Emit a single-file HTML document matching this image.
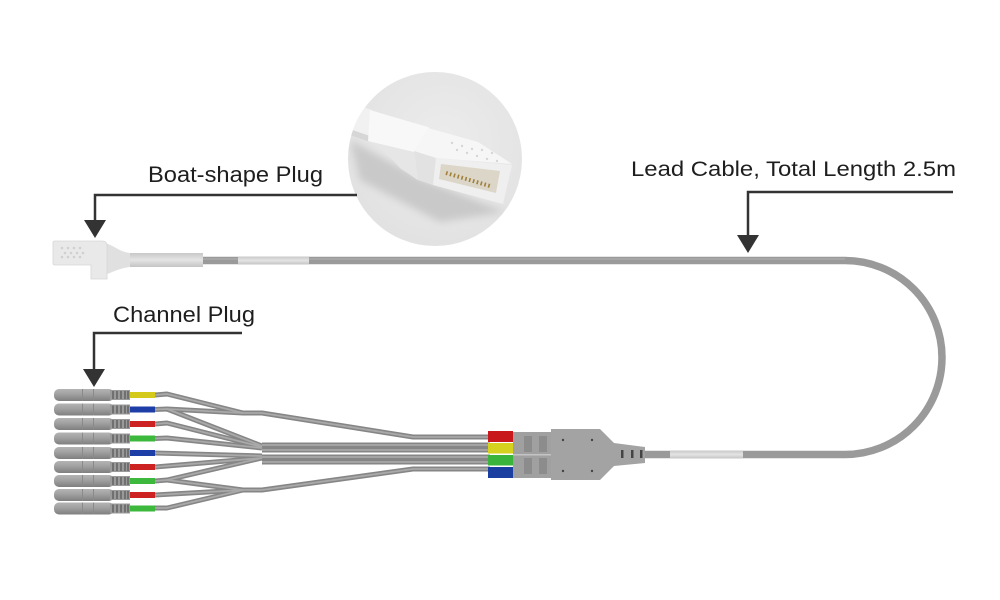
<!DOCTYPE html>
<html><head><meta charset="utf-8"><style>
html,body{margin:0;padding:0;background:#fff;}
svg{display:block;}
text{font-family:"Liberation Sans",sans-serif;fill:#1e1e1e;}
</style></head><body>
<svg width="1000" height="600" viewBox="0 0 1000 600" xmlns="http://www.w3.org/2000/svg">
<defs>
  <linearGradient id="pg" x1="0" y1="0" x2="0" y2="1">
    <stop offset="0" stop-color="#b4b4b4"/><stop offset="0.45" stop-color="#a0a0a0"/><stop offset="1" stop-color="#7f7f7f"/>
  </linearGradient>
  <linearGradient id="sg" x1="0" y1="0" x2="0" y2="1">
    <stop offset="0" stop-color="#c8c8c8"/><stop offset="0.5" stop-color="#e4e4e4"/><stop offset="1" stop-color="#c4c4c4"/>
  </linearGradient>
  <radialGradient id="cg" cx="0.55" cy="0.4" r="0.6">
    <stop offset="0" stop-color="#ececec"/><stop offset="1" stop-color="#e2e2e2"/>
  </radialGradient>
  <clipPath id="cc"><circle cx="435" cy="159" r="87"/></clipPath>
  <filter id="bl" x="-20%" y="-20%" width="140%" height="140%"><feGaussianBlur stdDeviation="4"/></filter>
</defs>

<!-- Circle inset -->
<circle cx="435" cy="159" r="87" fill="url(#cg)"/>
<g clip-path="url(#cc)">
  <polygon points="350,140 420,178 505,212 440,222 360,180" fill="#c9c9c9" filter="url(#bl)"/>
  <polygon points="335,98 372,110 370,142 335,130" fill="#f1f1f1"/>
  <polygon points="335,124 370,136 370,142 335,130" fill="#d6d6d6"/>
  <path d="M370,110 C390,116 410,122 428,127 L440,136 L414,152 L418,180 C405,172 396,160 386,151 C379,146 373,143 368,141 Z" fill="#f8f8f8"/>
  <path d="M368,141 C378,146 390,156 400,168 L418,180 L414,152 Z" fill="#e6e6e6"/>
  <polygon points="414,151 428,128 478,142 512,164 436,158" fill="#f6f6f6"/>
  <polygon points="414,151 436,158 433,185 418,180" fill="#e2e2e2"/>
  <polygon points="436,158 512,165 503,204 433,185" fill="#efefef"/>
  <polygon points="441,164 500,171 496,193 439,179" fill="#dcd6c8"/>
  <line x1="446" y1="173" x2="490" y2="186" stroke="#a0803a" stroke-width="4" stroke-dasharray="1.6 2.4"/>
  <g fill="#d6d6d6">
    <circle cx="452" cy="143" r="1.2"/><circle cx="462" cy="146" r="1.2"/><circle cx="472" cy="149" r="1.2"/>
    <circle cx="457" cy="150" r="1.2"/><circle cx="467" cy="153" r="1.2"/><circle cx="477" cy="156" r="1.2"/><circle cx="487" cy="159" r="1.2"/>
    <circle cx="482" cy="150" r="1.2"/><circle cx="492" cy="153" r="1.2"/><circle cx="497" cy="161" r="1.2"/>
  </g>
</g>

<!-- Labels -->
<text x="148" y="182" font-size="22" textLength="175" lengthAdjust="spacingAndGlyphs">Boat-shape Plug</text>
<text x="631" y="176" font-size="21" textLength="325" lengthAdjust="spacingAndGlyphs">Lead Cable, Total Length 2.5m</text>
<text x="113" y="322" font-size="22" textLength="142" lengthAdjust="spacingAndGlyphs">Channel Plug</text>

<!-- Arrows -->
<g stroke="#333" stroke-width="2.5" fill="none">
  <polyline points="357,195 95,195 95,224"/>
  <polyline points="953,192 748,192 748,238"/>
  <polyline points="242,333 94,333 94,372"/>
</g>
<g fill="#333">
  <polygon points="84,220 106,220 95,238"/>
  <polygon points="737,235 759,235 748,253"/>
  <polygon points="83,369 105,369 94,387"/>
</g>

<!-- Main lead cable -->
<path d="M200,260.5 L845,260.5 A97,97 0 0 1 845,454.5 L640,454.5" fill="none" stroke="#9a9a9a" stroke-width="7.5"/>
<path d="M200,259 L845,259" stroke="#a6a6a6" stroke-width="2" fill="none"/>
<rect x="238" y="256.5" width="71" height="8" fill="url(#sg)"/>
<rect x="670" y="450.5" width="73" height="8" fill="url(#sg)"/>

<!-- Boat plug -->
<path d="M105,243 C115,246 120,252 130,253 L130,267 C120,268 113,272 107,274 Z" fill="#e0e0e0"/>
<rect x="130" y="253" width="73" height="14" fill="url(#sg)"/>
<path d="M55,241 L102,241 Q107,241 107,246 L107,279 L91,279 L91,265 L55,265 Q53,265 53,263 L53,243 Q53,241 55,241 Z" fill="#e9e9e9" stroke="#d6d6d6" stroke-width="0.8"/>
<g fill="#d0d0d0">
  <circle cx="62" cy="248" r="1.3"/><circle cx="68" cy="248" r="1.3"/><circle cx="74" cy="248" r="1.3"/><circle cx="80" cy="248" r="1.3"/>
  <circle cx="65" cy="253" r="1.3"/><circle cx="71" cy="253" r="1.3"/><circle cx="77" cy="253" r="1.3"/><circle cx="83" cy="253" r="1.3"/>
  <circle cx="62" cy="257" r="1.3"/><circle cx="68" cy="257" r="1.3"/><circle cx="74" cy="257" r="1.3"/><circle cx="80" cy="257" r="1.3"/>
</g>

<!-- Wires -->
<g fill="none" stroke-linejoin="round">
  <g stroke="#868686" stroke-width="5">
    <polyline points="155,395 167,394 243,413 262,413 413,437 490,437"/>
    <polyline points="155,409.5 167,409 243,413"/>
    <polyline points="167,409 262,446"/>
    <polyline points="155,424 167,423 262,447"/>
    <polyline points="155,438.5 167,438 262,448"/>
    <polyline points="155,453 262,456"/>
    <polyline points="155,467 167,466 262,458"/>
    <polyline points="155,481 167,480 262,458"/>
    <polyline points="167,480 243,490"/>
    <polyline points="155,495 243,490"/>
    <polyline points="155,508 167,508 243,490 262,490 413,469 490,469"/>
    <line x1="262" y1="445" x2="490" y2="445"/>
    <line x1="262" y1="450" x2="490" y2="450"/>
    <line x1="262" y1="457" x2="490" y2="457"/>
    <line x1="262" y1="462" x2="490" y2="462"/>
  </g>
  <g stroke="#a9a9a9" stroke-width="1.8">
    <polyline points="155,395 167,394 243,413 262,413 413,437 490,437"/>
    <polyline points="155,409.5 167,409 243,413"/>
    <polyline points="167,409 262,446"/>
    <polyline points="155,424 167,423 262,447"/>
    <polyline points="155,438.5 167,438 262,448"/>
    <polyline points="155,453 262,456"/>
    <polyline points="155,467 167,466 262,458"/>
    <polyline points="155,481 167,480 262,458"/>
    <polyline points="167,480 243,490"/>
    <polyline points="155,495 243,490"/>
    <polyline points="155,508 167,508 243,490 262,490 413,469 490,469"/>
    <line x1="262" y1="445" x2="490" y2="445"/>
    <line x1="262" y1="450" x2="490" y2="450"/>
    <line x1="262" y1="457" x2="490" y2="457"/>
    <line x1="262" y1="462" x2="490" y2="462"/>
  </g>
</g>

<!-- Channel plugs -->
<g id="plugs">
  <!-- row template repeated -->
  <g transform="translate(0,395)">
    <rect x="54" y="-6" width="60" height="12" rx="5" fill="url(#pg)"/><rect x="82" y="-6" width="1" height="12" fill="#8a8a8a"/><rect x="93" y="-6" width="1" height="12" fill="#8a8a8a"/>
    <rect x="110" y="-5" width="20" height="10" fill="#9a9a9a"/><path d="M113,-4v8M117,-4v8M121,-4v8M125,-4v8M128,-4v8" stroke="#555" stroke-width="1.2"/>
    <rect x="130" y="-3" width="25" height="6" fill="#d3ca1c"/>
  </g>
  <g transform="translate(0,409.5)">
    <rect x="54" y="-6" width="60" height="12" rx="5" fill="url(#pg)"/><rect x="82" y="-6" width="1" height="12" fill="#8a8a8a"/><rect x="93" y="-6" width="1" height="12" fill="#8a8a8a"/>
    <rect x="110" y="-5" width="20" height="10" fill="#9a9a9a"/><path d="M113,-4v8M117,-4v8M121,-4v8M125,-4v8M128,-4v8" stroke="#555" stroke-width="1.2"/>
    <rect x="130" y="-3" width="25" height="6" fill="#1c3ea6"/>
  </g>
  <g transform="translate(0,424)">
    <rect x="54" y="-6" width="60" height="12" rx="5" fill="url(#pg)"/><rect x="82" y="-6" width="1" height="12" fill="#8a8a8a"/><rect x="93" y="-6" width="1" height="12" fill="#8a8a8a"/>
    <rect x="110" y="-5" width="20" height="10" fill="#9a9a9a"/><path d="M113,-4v8M117,-4v8M121,-4v8M125,-4v8M128,-4v8" stroke="#555" stroke-width="1.2"/>
    <rect x="130" y="-3" width="25" height="6" fill="#cc2222"/>
  </g>
  <g transform="translate(0,438.5)">
    <rect x="54" y="-6" width="60" height="12" rx="5" fill="url(#pg)"/><rect x="82" y="-6" width="1" height="12" fill="#8a8a8a"/><rect x="93" y="-6" width="1" height="12" fill="#8a8a8a"/>
    <rect x="110" y="-5" width="20" height="10" fill="#9a9a9a"/><path d="M113,-4v8M117,-4v8M121,-4v8M125,-4v8M128,-4v8" stroke="#555" stroke-width="1.2"/>
    <rect x="130" y="-3" width="25" height="6" fill="#3cb83c"/>
  </g>
  <g transform="translate(0,453)">
    <rect x="54" y="-6" width="60" height="12" rx="5" fill="url(#pg)"/><rect x="82" y="-6" width="1" height="12" fill="#8a8a8a"/><rect x="93" y="-6" width="1" height="12" fill="#8a8a8a"/>
    <rect x="110" y="-5" width="20" height="10" fill="#9a9a9a"/><path d="M113,-4v8M117,-4v8M121,-4v8M125,-4v8M128,-4v8" stroke="#555" stroke-width="1.2"/>
    <rect x="130" y="-3" width="25" height="6" fill="#1c3ea6"/>
  </g>
  <g transform="translate(0,467)">
    <rect x="54" y="-6" width="60" height="12" rx="5" fill="url(#pg)"/><rect x="82" y="-6" width="1" height="12" fill="#8a8a8a"/><rect x="93" y="-6" width="1" height="12" fill="#8a8a8a"/>
    <rect x="110" y="-5" width="20" height="10" fill="#9a9a9a"/><path d="M113,-4v8M117,-4v8M121,-4v8M125,-4v8M128,-4v8" stroke="#555" stroke-width="1.2"/>
    <rect x="130" y="-3" width="25" height="6" fill="#cc2222"/>
  </g>
  <g transform="translate(0,481)">
    <rect x="54" y="-6" width="60" height="12" rx="5" fill="url(#pg)"/><rect x="82" y="-6" width="1" height="12" fill="#8a8a8a"/><rect x="93" y="-6" width="1" height="12" fill="#8a8a8a"/>
    <rect x="110" y="-5" width="20" height="10" fill="#9a9a9a"/><path d="M113,-4v8M117,-4v8M121,-4v8M125,-4v8M128,-4v8" stroke="#555" stroke-width="1.2"/>
    <rect x="130" y="-3" width="25" height="6" fill="#3cb83c"/>
  </g>
  <g transform="translate(0,495)">
    <rect x="54" y="-6" width="60" height="12" rx="5" fill="url(#pg)"/><rect x="82" y="-6" width="1" height="12" fill="#8a8a8a"/><rect x="93" y="-6" width="1" height="12" fill="#8a8a8a"/>
    <rect x="110" y="-5" width="20" height="10" fill="#9a9a9a"/><path d="M113,-4v8M117,-4v8M121,-4v8M125,-4v8M128,-4v8" stroke="#555" stroke-width="1.2"/>
    <rect x="130" y="-3" width="25" height="6" fill="#cc2222"/>
  </g>
  <g transform="translate(0,508.5)">
    <rect x="54" y="-6" width="60" height="12" rx="5" fill="url(#pg)"/><rect x="82" y="-6" width="1" height="12" fill="#8a8a8a"/><rect x="93" y="-6" width="1" height="12" fill="#8a8a8a"/>
    <rect x="110" y="-5" width="20" height="10" fill="#9a9a9a"/><path d="M113,-4v8M117,-4v8M121,-4v8M125,-4v8M128,-4v8" stroke="#555" stroke-width="1.2"/>
    <rect x="130" y="-3" width="25" height="6" fill="#3cb83c"/>
  </g>
</g>

<!-- Splitter -->
<rect x="488" y="431" width="25" height="11" fill="#c8181c"/>
<rect x="488" y="443" width="25" height="10.5" fill="#d6d01e"/>
<rect x="488" y="455" width="25" height="10.5" fill="#3bb43b"/>
<rect x="488" y="467" width="25" height="11" fill="#1a3fa0"/>
<rect x="513" y="432" width="38" height="46" fill="#a0a0a0"/>
<g fill="#8c8c8c">
  <rect x="524" y="436" width="8" height="16"/><rect x="539" y="436" width="8" height="16"/>
  <rect x="524" y="458" width="8" height="16"/><rect x="539" y="458" width="8" height="16"/>
</g>
<rect x="513" y="454" width="38" height="1.5" fill="#c4c4c4"/>
<polygon points="551,429 600,429 614,443 645,447 645,463 614,466 600,480 551,480" fill="#a3a3a3"/>
<g fill="#444">
  <circle cx="563" cy="440" r="1.2"/><circle cx="592" cy="440" r="1.2"/>
  <circle cx="563" cy="471" r="1.2"/><circle cx="592" cy="471" r="1.2"/>
  <rect x="621" y="450" width="2.5" height="8"/><rect x="631" y="450" width="2.5" height="8"/><rect x="640" y="450" width="2.5" height="8"/>
</g>
</svg>
</body></html>
